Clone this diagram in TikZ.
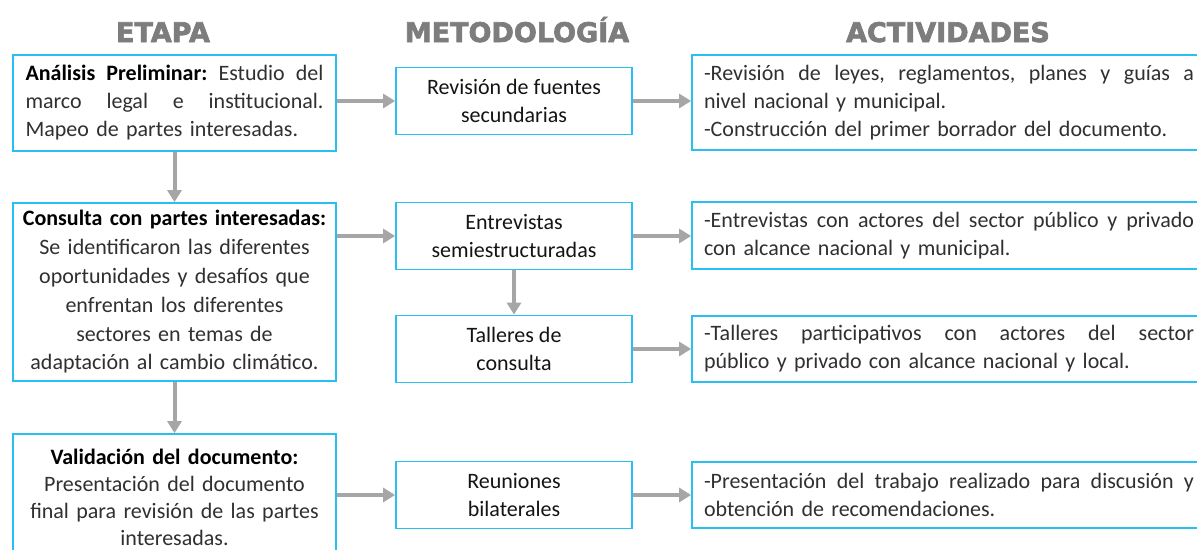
\documentclass[tikz,border=0pt]{standalone}
\usepackage{fontspec}
\setmainfont{Carlito}
\newfontfamily\headfont{DejaVu Sans}[BoldFeatures={FakeBold=2.5}]
\usetikzlibrary{arrows.meta}
\definecolor{boxblue}{RGB}{40,192,242}
\definecolor{arrgray}{RGB}{166,166,166}
\definecolor{headgray}{RGB}{125,125,125}
\definecolor{bodytext}{RGB}{48,48,48}
\definecolor{midtext}{RGB}{20,20,20}
\newcommand\jline[2]{\makebox[#1][s]{\frenchspacing\spaceskip=\fontdimen2\font plus 1fil\relax #2}}
\begin{document}
\begin{tikzpicture}[x=1pt,y=-1pt,
  box/.style={draw=boxblue,line width=1.8pt,inner sep=0pt,fill=white},
  etapa/.style={box,minimum width=323pt,text width=318pt,align=center,
    font=\fontsize{22}{28}\selectfont,text=bodytext},
  metodo/.style={box,minimum width=236pt,minimum height=67pt,align=center,
    font=\fontsize{22}{28}\selectfont,text=midtext},
  activ/.style={box,minimum width=514pt,text width=490pt,align=left,
    font=\fontsize{22}{28}\selectfont,text=bodytext},
  head/.style={font=\headfont\bfseries\fontsize{27}{30}\selectfont,text=headgray,anchor=base,inner sep=0pt},
  arr/.style={draw=arrgray,line width=4pt,-{Triangle[length=12pt,width=14pt]}}]
\useasboundingbox (0,0) rectangle (1197,549);
\clip (0,0) rectangle (1197,549);
\fill[white] (0,0) rectangle (1197,549);

% headers
\node[head] (h1) at (163,42) {ETAPA};
\node[head] (h2) at (517,42) {METODOLOGÍA};
\node[head] (h3) at (948,42) {ACTIVIDADES};

% etapa column
\node[etapa,minimum height=96pt,text width=298pt,align=left] (A1) at (174.5,103)
  {\jline{298pt}{\textcolor{black}{\bfseries Análisis Preliminar:} Estudio del}\\
   \jline{298pt}{marco legal e institucional.}\\
   Mapeo de partes interesadas.};
\node[etapa,minimum height=178pt,font=\fontsize{22}{28.8}\selectfont] (A2) at (174.5,292)
  {\textcolor{black}{\bfseries Consulta con partes interesadas:}\\
   Se identificaron las diferentes\\
   oportunidades y desafíos que\\
   enfrentan los diferentes\\
   sectores en temas de\\
   adaptación al cambio climático.};
\node[etapa,minimum height=126pt,font=\fontsize{22}{27}\selectfont] (A3) at (174.5,497)
  {\textcolor{black}{\bfseries Validación del documento:}\\
   Presentación del documento\\
   final para revisión de las partes\\
   interesadas.};

% metodologia column
\node[metodo] (M1) at (514,101) {Revisión de fuentes\\secundarias};
\node[metodo] (M2) at (514,236) {Entrevistas\\semiestructuradas};
\node[metodo] (M3) at (514,349) {Talleres de\\consulta};
\node[metodo] (M4) at (514,495) {Reuniones\\bilaterales};

% actividades column
\node[activ,minimum height=95pt] (R1) at (949,102.5)
  {\jline{490pt}{-Revisión de leyes, reglamentos, planes y guías a}\\
   nivel nacional y municipal.\\
   -Construcción del primer borrador del documento.};
\node[activ,minimum height=67pt] (R2) at (949,235.5)
  {\jline{490pt}{-Entrevistas con actores del sector público y privado}\\
   con alcance nacional y municipal.};
\node[activ,minimum height=66pt] (R3) at (949,349)
  {\jline{490pt}{-Talleres participativos con actores del sector}\\
   público y privado con alcance nacional y local.};
\node[activ,minimum height=66pt] (R4) at (949,495)
  {\jline{490pt}{-Presentación del trabajo realizado para discusión y}\\
   obtención de recomendaciones.};

% connectors
\draw[arr] (A1.south) -- (A2.north);
\draw[arr] (A2.south) -- (A3.north);
\draw[arr] (M2.south) -- (M3.north);
\draw[arr] (A1.east |- M1.east) -- (M1.west);
\draw[arr] (A2.east |- M2.east) -- (M2.west);
\draw[arr] (A3.east |- M4.east) -- (M4.west);
\draw[arr] (M1.east) -- (M1.east -| R1.west);
\draw[arr] (M2.east) -- (M2.east -| R2.west);
\draw[arr] (M3.east) -- (M3.east -| R3.west);
\draw[arr] (M4.east) -- (M4.east -| R4.west);
\end{tikzpicture}
\end{document}
